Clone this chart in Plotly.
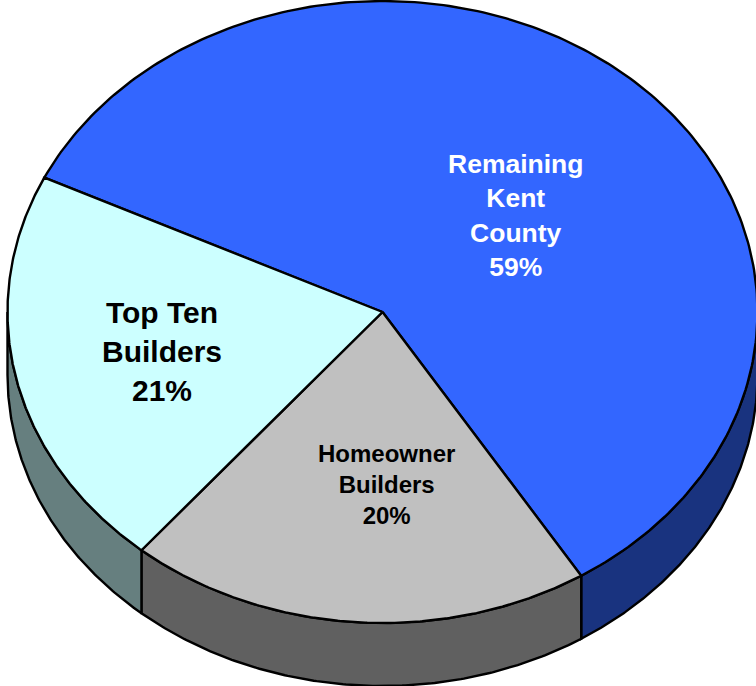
import numpy as np
import plotly.graph_objects as go

# Chart data
categories = ["Remaining<br>Kent<br>County", "Homeowner<br>Builders", "Top Ten<br>Builders"]
values = [59, 20, 21]
top_colors = ["#3366FF", "#C0C0C0", "#CCFFFF"]
side_colors = ["#19337F", "#606060", "#667F7F"]
label_colors = ["white", "black", "black"]
label_sizes = [26.5, 24, 30]
label_pos = [(515, 215), (386, 484), (162, 351)]

# Projection of the tilted pie onto the page
W, H = 756, 686
CX, CY, RX, RY, DEPTH = 382.5, 312, 375, 311, 63
START = 295.6


def project(deg, dz=0.0):
    t = np.radians(deg)
    return CX + RX * np.sin(t), CY - RY * np.cos(t) + dz


fig = go.Figure()
LINE = dict(color="black", width=2.4)


def poly(xs, ys, color):
    fig.add_trace(go.Scatter(x=xs, y=ys, mode="lines", fill="toself", fillcolor=color,
                             line=LINE, hoverinfo="skip", showlegend=False))


edges = START + np.concatenate([[0], np.cumsum(values)]) * 3.6

# Side walls (only the front, visible part: angle between 90 and 270)
for i in range(len(values)):
    a0, a1 = edges[i], edges[i + 1]
    for lo, hi in ((a0, a1), (a0 + 360, a1 + 360), (a0 - 360, a1 - 360)):
        s, e = max(lo, 90), min(hi, 270)
        if e > s:
            arc = np.linspace(s, e, 160)
            x0, y0 = project(arc)
            x1, y1 = project(arc[::-1], DEPTH)
            poly(np.r_[x0, x1, x0[0]], np.r_[y0, y1, y0[0]], side_colors[i])

# Top face
for i in range(len(values)):
    arc = np.linspace(edges[i], edges[i + 1], 240)
    x, y = project(arc)
    poly(np.r_[CX, x, CX], np.r_[CY, y, CY], top_colors[i])

for text, (x, y), color, size in zip(
    [f"{c}<br>{v}%" for c, v in zip(categories, values)], label_pos, label_colors, label_sizes
):
    fig.add_annotation(x=x, y=y, text=text, showarrow=False, align="center",
                       font=dict(family="Liberation Sans, Arial, sans-serif", size=size, color=color, weight="bold"))

fig.update_xaxes(range=[0, W], visible=False, fixedrange=True)
fig.update_yaxes(range=[H, 0], visible=False, fixedrange=True)
fig.update_layout(width=W, height=H, margin=dict(l=0, r=0, t=0, b=0),
                  paper_bgcolor="white", plot_bgcolor="white", showlegend=False)
fig.write_html("out.html", config={"displayModeBar": False},
               post_script="document.body.style.margin='0';document.body.style.overflow='hidden';")
